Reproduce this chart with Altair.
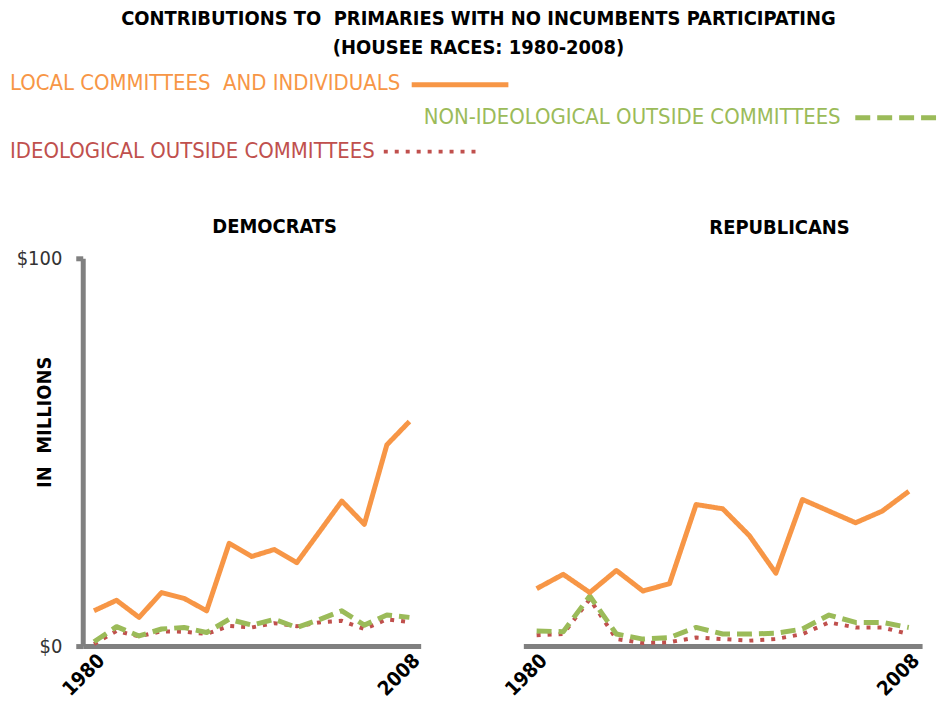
import altair as alt
import pandas as pd

# ---------------- data ----------------
years = [1980, 1982, 1984, 1986, 1988, 1990, 1992, 1994, 1996, 1998, 2000, 2002, 2004, 2006, 2008]

dem_local = [9.1, 11.8, 7.4, 13.8, 12.3, 9.1, 26.5, 23.1, 24.9, 21.5, 29.4, 37.4, 31.4, 51.9, 57.9]
dem_nonideo = [1.1, 5.0, 2.6, 4.4, 4.8, 3.5, 6.9, 5.4, 6.9, 4.8, 6.8, 9.1, 5.4, 8.0, 7.4]
dem_ideo = [0.5, 3.9, 2.5, 3.8, 3.7, 3.1, 5.2, 4.8, 5.9, 5.1, 6.1, 6.5, 4.4, 6.9, 6.2]

rep_local = [14.8, 18.5, 13.8, 19.5, 14.2, 16.1, 36.5, 35.4, 28.5, 18.8, 37.8, 34.8, 31.8, 34.8, 39.9]
rep_nonideo = [3.9, 3.7, 12.9, 3.1, 1.8, 2.2, 4.8, 3.1, 3.1, 3.3, 4.4, 8.0, 6.1, 6.1, 4.8]
rep_ideo = [2.8, 3.1, 12.1, 1.8, 0.8, 1.0, 2.2, 1.8, 1.4, 1.8, 3.1, 6.1, 4.8, 4.8, 3.1]

NBSP = "\u00a0"
series_names = ["LOCAL COMMITTEES " + NBSP + "AND INDIVIDUALS",
                "NON-IDEOLOGICAL OUTSIDE COMMITTEES",
                "IDEOLOGICAL OUTSIDE COMMITTEES"]
title_lines = ["CONTRIBUTIONS TO " + NBSP + "PRIMARIES WITH NO INCUMBENTS PARTICIPATING",
               "(HOUSEE RACES: 1980-2008)"]
panel_titles = ["DEMOCRATS", "REPUBLICANS"]
y_ticks = [0, 100]
x_ticks = [1980, 2008]
y_title = "IN " + NBSP + "MILLIONS"

# ---------------- styles ----------------
FONT = "Liberation Sans Narrow, DejaVu Sans Condensed, Arial Narrow, sans-serif"
ORANGE, GREEN, RED = "#F79646", "#9BBB59", "#C0504D"
GREY = "#808080"
styles = {
    series_names[0]: dict(color=ORANGE, strokeWidth=5, strokeDash=[1, 0]),
    series_names[1]: dict(color=GREEN, strokeWidth=5, strokeDash=[15, 7]),
    series_names[2]: dict(color=RED, strokeWidth=4, strokeDash=[4, 7]),
}

OX = 83  # left edge of plot area


def panel(title, local, nonideo, ideo, width, dx, offset, show_y):
    layers = []
    for name, vals in [(series_names[2], ideo), (series_names[1], nonideo), (series_names[0], local)]:
        df = pd.DataFrame({"year": years, "value": vals})
        st = styles[name]
        x = alt.X("year:Q", scale=alt.Scale(domain=[1979, 2009], nice=False, zero=False),
                  axis=alt.Axis(values=x_ticks, format="d", labelAngle=-45, labelFontWeight="bold",
                                labelFontSize=20, labelColor="#000", labelFont=FONT, ticks=False,
                                domainColor=GREY, domainWidth=5, grid=False, title=None,
                                labelPadding=4))
        if show_y:
            yaxis = alt.Axis(values=y_ticks, labelExpr="'$' + datum.value", labelFontSize=20,
                             labelFont=FONT, labelColor="#333", domainColor=GREY, domainWidth=5,
                             tickColor=GREY, tickWidth=5, tickSize=7, grid=False, labelPadding=14,
                             title=y_title, titleFont=FONT, titleFontSize=20, titleFontWeight="bold",
                             titleColor="#000", titleX=45 - OX, titleY=164, titleAngle=-90,
                             titleAlign="center", titleBaseline="middle")
        else:
            yaxis = None
        y = alt.Y("value:Q", scale=alt.Scale(domain=[0, 100], nice=False), axis=yaxis)
        layers.append(
            alt.Chart(df).mark_line(color=st["color"], strokeWidth=st["strokeWidth"],
                                    strokeDash=st["strokeDash"], strokeJoin="round")
            .encode(x=x, y=y)
        )
    return alt.layer(*layers).properties(
        width=width, height=389,
        title=alt.TitleParams(title, font=FONT, fontSize=20, fontWeight="bold", color="#000",
                              anchor="middle", offset=offset, dx=dx)
    )


dem = panel(panel_titles[0], dem_local, dem_nonideo, dem_ideo, 339, 23, 11, True)
rep = panel(panel_titles[1], rep_local, rep_nonideo, rep_ideo, 400, 57, 20, False)

# ---------------- header (title + custom legend) ----------------
one = pd.DataFrame({"k": [0]})


def txt(s, x, y, color, size, weight="normal", align="left"):
    return alt.Chart(pd.DataFrame({"t": [s]})).mark_text(
        align=align, baseline="middle", font=FONT, fontSize=size, fontWeight=weight, color=color
    ).encode(x=alt.value(x - OX), y=alt.value(y), text="t:N")


def rule(x1, x2, y, name):
    st = styles[name]
    return alt.Chart(one).mark_rule(color=st["color"], strokeWidth=st["strokeWidth"],
                                    strokeDash=st["strokeDash"]).encode(
        x=alt.value(x1 - OX), x2=alt.value(x2 - OX), y=alt.value(y))


header = alt.layer(
    txt(title_lines[0], 480, 18, "#000", 20, "bold", "center"),
    txt(title_lines[1], 480, 47, "#000", 20, "bold", "center"),
    txt(series_names[0], 10, 82, ORANGE, 22),
    rule(413, 510, 84, series_names[0]),
    txt(series_names[1], 425, 116, GREEN, 22),
    rule(858, 946, 117, series_names[1]),
    txt(series_names[2], 10, 150, RED, 22),
    rule(385, 477, 151, series_names[2]),
).properties(width=842, height=200)

panels = alt.hconcat(dem, rep, spacing=103, bounds="flush")

chart = alt.vconcat(header, panels, spacing=58, bounds="flush").properties(
    padding={"left": 10, "top": 0, "right": 0, "bottom": 0}, background="white"
).configure_view(stroke=None)

chart.save("out.html", embed_options={"renderer": "svg", "actions": False})
